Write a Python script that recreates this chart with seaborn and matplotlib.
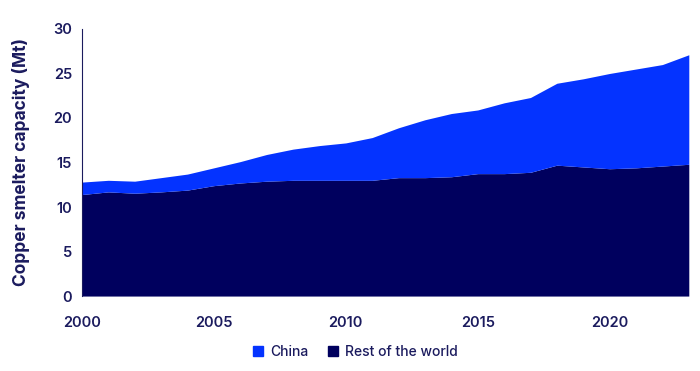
import numpy as np
import pandas as pd
import matplotlib
matplotlib.use("Agg")
import matplotlib.pyplot as plt
import seaborn as sns
from matplotlib.patches import Patch

years = list(range(2000, 2024))
total = [12.8, 13.0, 12.9, 13.3, 13.7, 14.4, 15.1, 15.9, 16.5, 16.9, 17.2, 17.8,
         18.9, 19.8, 20.5, 20.9, 21.7, 22.3, 23.9, 24.4, 25.0, 25.5, 26.0, 27.1]
rest_of_world = [11.4, 11.7, 11.55, 11.7, 11.9, 12.4, 12.7, 12.9, 13.0, 13.0, 13.0, 13.0,
                 13.3, 13.3, 13.4, 13.75, 13.75, 13.9, 14.7, 14.5, 14.3, 14.4, 14.6, 14.8]
china = [round(t - r, 2) for t, r in zip(total, rest_of_world)]

NAVY = "#00005E"
BLUE = "#0433FF"
TEXT = "#1B1B5E"

df = pd.DataFrame({"year": years, "Rest of the world": rest_of_world, "China": china})

sns.set_theme(style="white")
plt.rcParams["font.family"] = ["Inter", "DejaVu Sans"]

fig = plt.figure(figsize=(7, 3.71), dpi=100)
ax = fig.add_axes([0.117, 0.202, 0.867, 0.72])

ax.stackplot(df["year"], df["Rest of the world"], df["China"],
             colors=[NAVY, BLUE], linewidth=0)

ax.set_xlim(2000, 2023)
ax.set_ylim(0, 30)
ax.set_xticks([2000, 2005, 2010, 2015, 2020])
ax.set_yticks(range(0, 31, 5))
ax.tick_params(axis="both", length=0, labelsize=10.5, colors=TEXT)
ax.tick_params(axis="x", pad=14)
ax.tick_params(axis="y", pad=7)
for lbl in ax.get_xticklabels() + ax.get_yticklabels():
    lbl.set_fontweight("semibold")

sns.despine(ax=ax, top=True, right=True, bottom=True)
ax.spines["left"].set_color(TEXT)
ax.spines["left"].set_linewidth(0.8)

ax.set_ylabel("Copper smelter capacity (Mt)", fontsize=12.5, fontweight="bold",
              color=TEXT, labelpad=17)

handles = [Patch(color=BLUE, label="China"), Patch(color=NAVY, label="Rest of the world")]
leg = fig.legend(handles=handles, loc="center", bbox_to_anchor=(0.508, 0.051), ncol=2,
                 frameon=False, handlelength=0.75, handleheight=0.75, handletextpad=0.5,
                 columnspacing=1.4, fontsize=10)
for t in leg.get_texts():
    t.set_color(TEXT)
    t.set_fontweight("medium")

fig.savefig("out.png", dpi=100)
